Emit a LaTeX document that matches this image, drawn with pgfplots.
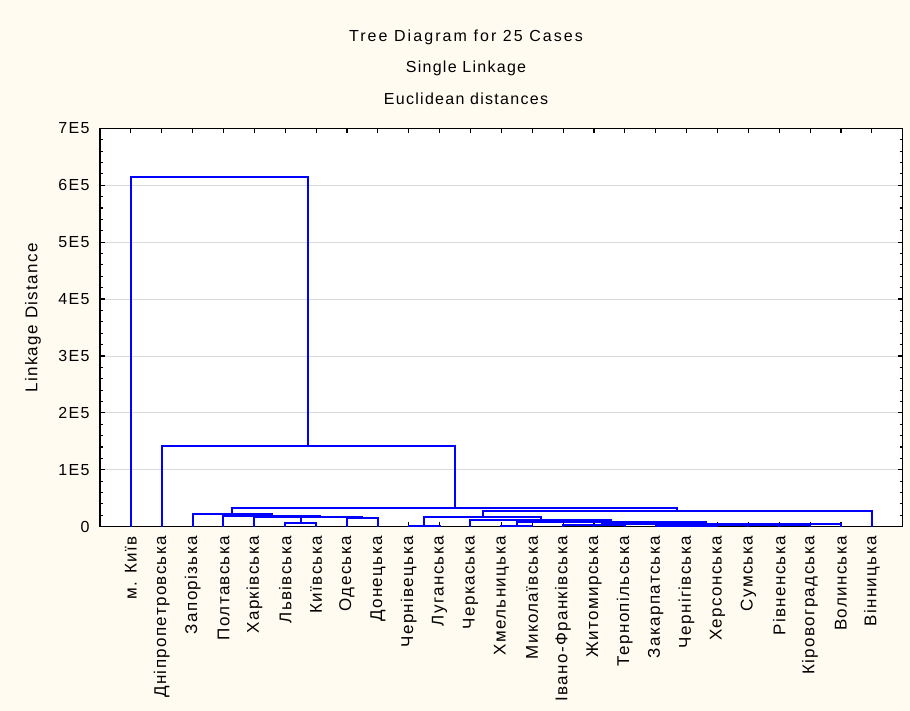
\documentclass[border=0pt]{standalone}
\usepackage{fontspec}
\setmainfont[LetterSpace=8]{Liberation Sans}
\newfontfamily\widefont[LetterSpace=13]{Liberation Sans}
\usepackage{pgfplots}
\pgfplotsset{compat=1.18}
\definecolor{bgcream}{RGB}{255,251,240}
\definecolor{gridgray}{RGB}{218,218,218}
\definecolor{dendro}{RGB}{0,0,255}
\pgfplotsset{link/.style={color=dendro, line width=2bp, mark=none}}

\begin{document}
\fontsize{16bp}{19bp}\selectfont
\begin{tikzpicture}
\path[use as bounding box, fill=bgcream] (0,0) rectangle (910bp,711bp);

\node at (466bp,674bp) {\widefont Tree Diagram for 25 Cases};
\node at (466bp,643bp) {Single Linkage};
\node at (466bp,612bp) {Euclidean distances};

\begin{axis}[
    at={(100bp,184.3bp)}, anchor=south west,
    scale only axis,
    width=802.7bp, height=398.4bp,
    xmin=0, xmax=26,
    ymin=0, ymax=700000,
    axis background/.style={fill=white},
    axis line style={black, line width=1.3bp},
    every tick/.style={black, line width=1.1bp},
    major tick length=5bp, minor tick length=3bp,
    xtick={1,2,3,4,5,6,7,8,9,10,11,12,13,14,15,16,17,18,19,20,21,22,23,24,25},
    xticklabels={м. Київ, Дніпропетровська, Запорізька, Полтавська, Харківська,
        Львівська, Київська, Одеська, Донецька, Чернівецька, Луганська, Черкаська,
        Хмельницька, Миколаївська, Івано-Франківська, Житомирська, Тернопільська,
        Закарпатська, Чернігівська, Херсонська, Сумська, Рівненська,
        Кіровоградська, Волинська, Вінницька},
    xticklabel style={rotate=90, anchor=east, font=\fontsize{17bp}{20bp}\selectfont},
    xticklabel shift=4bp,
    ytick={0,100000,200000,300000,400000,500000,600000,700000},
    yticklabels={0,1E5,2E5,3E5,4E5,5E5,6E5,7E5},
    scaled y ticks=false,
    yticklabel shift=5bp,
    minor y tick num=4,
    ymajorgrids,
    major grid style={gridgray, line width=0.8bp},
    ylabel={Linkage Distance},
    ylabel style={at={(rel axis cs:-0.0835,0.524)}, anchor=center,
        font=\fontsize{17bp}{20bp}\selectfont},
]
% Запорізька ... Донецька
\addplot[link] coordinates {(6,0) (6,7000) (7,7000) (7,0)};
\addplot[link] coordinates {(8,0) (8,14700) (9,14700) (9,0)};
\addplot[link] coordinates {(5,0) (5,16500) (6.5,16500) (6.5,7000)};
\addplot[link] coordinates {(5.75,16500) (5.75,17600) (8.5,17600) (8.5,14700)};
\addplot[link] coordinates {(4,0) (4,19300) (7.125,19300) (7.125,17600)};
\addplot[link] coordinates {(3,0) (3,22300) (5.5625,22300) (5.5625,19300)};
% Чернівецька ... Волинська
\addplot[link] coordinates {(10,0) (10,2000) (11,2000) (11,0)};
\addplot[link] coordinates {(13,0) (13,1500) (14,1500) (14,0)};
\addplot[link] coordinates {(15,0) (15,2500) (16,2500) (16,0)};
\addplot[link] coordinates {(15.5,2500) (15.5,3500) (17,3500) (17,0)};
\addplot[link] coordinates {(18,0) (18,1500) (19,1500) (19,0)};
\addplot[link] coordinates {(18.5,1500) (18.5,2000) (20,2000) (20,0)};
\addplot[link] coordinates {(19.25,2000) (19.25,2500) (21,2500) (21,0)};
\addplot[link] coordinates {(20.125,2500) (20.125,3000) (22,3000) (22,0)};
\addplot[link] coordinates {(21.0625,3000) (21.0625,3800) (23,3800) (23,0)};
\addplot[link] coordinates {(22.03125,3800) (22.03125,4700) (24,4700) (24,0)};
\addplot[link] coordinates {(16.25,3500) (16.25,5500) (23.015625,5500) (23.015625,4700)};
\addplot[link] coordinates {(13.5,1500) (13.5,7500) (19.6328125,7500) (19.6328125,5500)};
\addplot[link] coordinates {(12,0) (12,12500) (16.56640625,12500) (16.56640625,7500)};
\addplot[link] coordinates {(10.5,2000) (10.5,17000) (14.283203125,17000) (14.283203125,12500)};
\addplot[link] coordinates {(12.3916015625,17000) (12.3916015625,26800) (25,26800) (25,0)};
% upper levels
\addplot[link] coordinates {(4.28125,22300) (4.28125,32300) (18.69580078125,32300) (18.69580078125,26800)};
\addplot[link] coordinates {(2,0) (2,142000) (11.488525390625,142000) (11.488525390625,32300)};
\addplot[link] coordinates {(1,0) (1,615000) (6.7442626953125,615000) (6.7442626953125,142000)};
\end{axis}
\end{tikzpicture}
\end{document}
